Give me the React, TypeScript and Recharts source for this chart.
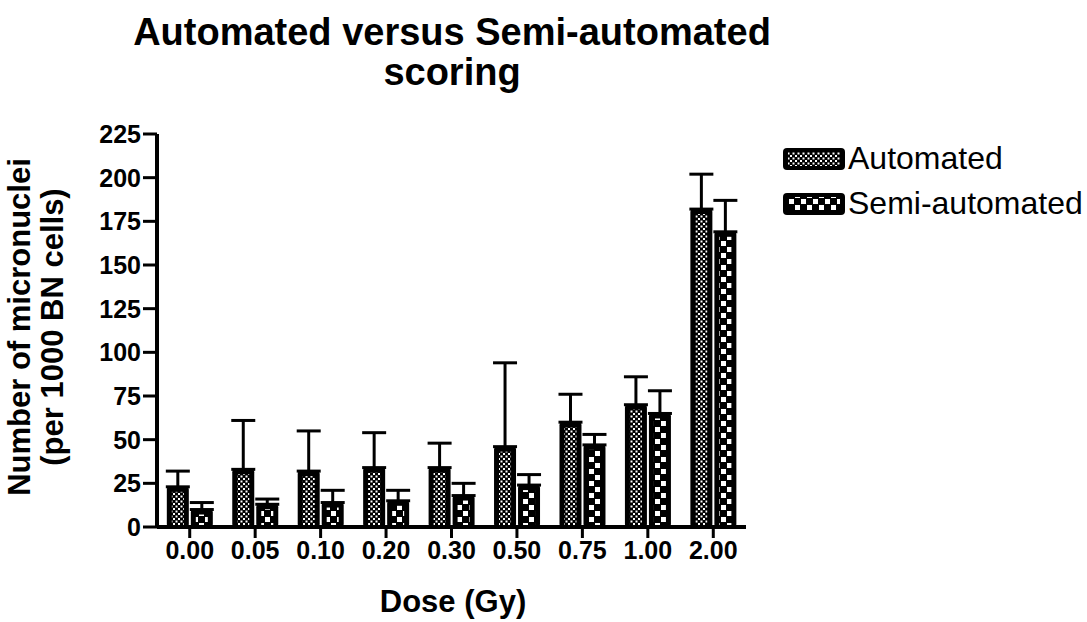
import { Bar, BarChart, ErrorBar, XAxis, YAxis } from 'recharts'

const doses = ['0.00', '0.05', '0.10', '0.20', '0.30', '0.50', '0.75', '1.00', '2.00']
const automated = [23, 33, 32, 34, 34, 46, 60, 70, 182]
const automatedErr = [9, 28, 23, 20, 14, 48, 16, 16, 20]
const semiAutomated = [10, 13, 14, 15, 18, 24, 47, 65, 169]
const semiAutomatedErr = [4, 3, 7, 6, 7, 6, 6, 13, 18]
const yTicks = [0, 25, 50, 75, 100, 125, 150, 175, 200, 225]

const data = doses.map((dose, i) => ({
  dose,
  automated: automated[i],
  automatedErr: [0, automatedErr[i]],
  semi: semiAutomated[i],
  semiErr: [0, semiAutomatedErr[i]],
}))

const FONT = '"Liberation Sans", Arial, sans-serif'

interface ShapeProps {
  x?: number
  y?: number
  width?: number
  height?: number
}

function patternBar(patternId: string) {
  return function PatternBar({ x = 0, y = 0, width = 0, height = 0 }: ShapeProps) {
    if (height <= 0) return null
    const inset = 5
    return (
      <g>
        <rect x={x} y={y} width={width} height={height} rx={3} fill="#000" />
        {height > inset + 1 && (
          <rect
            x={x + inset}
            y={y + inset}
            width={Math.max(width - inset * 2, 0)}
            height={height - inset}
            fill={`url(#${patternId})`}
          />
        )}
      </g>
    )
  }
}

function Patterns() {
  return (
    <defs>
      <pattern id="patAuto" width={5} height={5} patternUnits="userSpaceOnUse">
        <rect width={5} height={5} fill="#000" />
        <rect x={0.5} y={0.5} width={2} height={2} fill="#fff" />
        <rect x={3} y={3} width={2} height={2} fill="#fff" />
      </pattern>
      <pattern id="patSemi" width={12} height={12} patternUnits="userSpaceOnUse">
        <rect width={12} height={12} fill="#000" />
        <rect x={1} y={1} width={5} height={5} fill="#fff" />
        <rect x={7} y={7} width={5} height={5} fill="#fff" />
      </pattern>
    </defs>
  )
}

function LegendIcon({ pattern }: { pattern: string }) {
  return (
    <svg width={64} height={24} style={{ display: 'block' }}>
      <rect x={1} y={1} width={62} height={22} rx={4} fill="#000" />
      <rect x={6} y={5} width={52} height={14} fill={`url(#${pattern})`} />
    </svg>
  )
}

export default function App() {
  return (
    <div style={{ position: 'absolute', left: 0, top: 0, width: 1087, height: 622, background: '#fff', fontFamily: FONT }}>
      <svg width={0} height={0} style={{ position: 'absolute' }}>
        <Patterns />
      </svg>
      <div
        style={{
          position: 'absolute',
          left: 52,
          width: 800,
          top: 12,
          textAlign: 'center',
          fontSize: 38,
          fontWeight: 'bold',
          lineHeight: '40px',
          whiteSpace: 'nowrap',
        }}
      >
        Automated versus Semi-automated
        <br />
        scoring
      </div>
      <div
        style={{
          position: 'absolute',
          left: 43 - 250,
          top: 327 - 40,
          width: 500,
          height: 80,
          transform: 'rotate(-90deg)',
          textAlign: 'center',
          fontSize: 31,
          fontWeight: 'bold',
          lineHeight: '33px',
          whiteSpace: 'nowrap',
        }}
      >
        Number of micronuclei
        <br />
        (per 1000 BN cells)
      </div>
      <div
        style={{
          position: 'absolute',
          left: 253,
          width: 400,
          top: 584,
          textAlign: 'center',
          fontSize: 31,
          fontWeight: 'bold',
        }}
      >
        Dose (Gy)
      </div>
      <div style={{ position: 'absolute', left: 782, top: 136, fontSize: 32 }}>
        {[
          { name: 'Automated', pattern: 'patAuto' },
          { name: 'Semi-automated', pattern: 'patSemi' },
        ].map((it) => (
          <div key={it.name} style={{ display: 'flex', alignItems: 'center', height: 45 }}>
            <LegendIcon pattern={it.pattern} />
            <span style={{ marginLeft: 2 }}>{it.name}</span>
          </div>
        ))}
      </div>
      <BarChart
        width={1087}
        height={622}
        data={data}
        margin={{ top: 134, right: 341, bottom: 0, left: 0 }}
        barCategoryGap="15%"
        barGap={2}
      >
        <XAxis
          dataKey="dose"
          height={95}
          axisLine={{ stroke: '#000', strokeWidth: 4 }}
          tickLine={{ stroke: '#000', strokeWidth: 3 }}
          tickSize={11}
          tickMargin={3}
          tick={{ fontSize: 25, fontWeight: 'bold', fill: '#000', fontFamily: FONT }}
        />
        <YAxis
          width={157}
          domain={[0, 225]}
          ticks={yTicks}
          interval={0}
          axisLine={{ stroke: '#000', strokeWidth: 4 }}
          tickLine={{ stroke: '#000', strokeWidth: 3 }}
          tickSize={14}
          tickMargin={2}
          tick={{ fontSize: 25, fontWeight: 'bold', fill: '#000', fontFamily: FONT }}
        />
        <Bar dataKey="automated" shape={patternBar('patAuto')} isAnimationActive={false}>
          <ErrorBar dataKey="automatedErr" width={12} strokeWidth={3} stroke="#000" direction="y" />
        </Bar>
        <Bar dataKey="semi" shape={patternBar('patSemi')} isAnimationActive={false}>
          <ErrorBar dataKey="semiErr" width={12} strokeWidth={3} stroke="#000" direction="y" />
        </Bar>
      </BarChart>
    </div>
  )
}
